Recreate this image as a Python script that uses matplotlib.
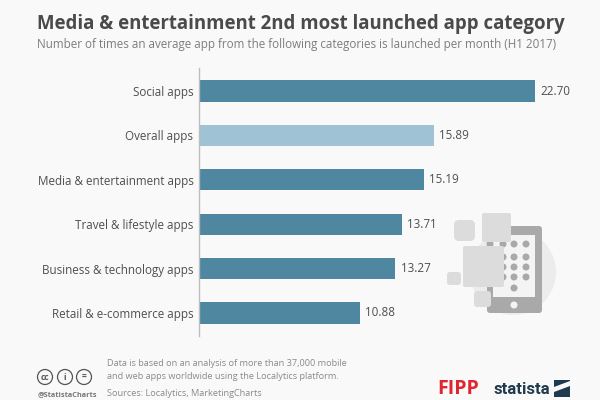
import matplotlib
matplotlib.use("Agg")
import matplotlib.pyplot as plt
from matplotlib.patches import Circle, FancyBboxPatch, Rectangle, Polygon

categories = ["Social apps", "Overall apps", "Media & entertainment apps",
              "Travel & lifestyle apps", "Business & technology apps",
              "Retail & e-commerce apps"]
launches = [22.70, 15.89, 15.19, 13.71, 13.27, 10.88]
bar_colors = ["#4f86a0", "#9fc3d4", "#4f86a0", "#4f86a0", "#4f86a0", "#4f86a0"]

title = "Media & entertainment 2nd most launched app category"
subtitle = "Number of times an average app from the following categories is launched per month (H1 2017)"
note_lines = ["Data is based on an analysis of more than 37,000 mobile",
              "and web apps worldwide using the Localytics platform."]
sources = "Sources: Localytics, MarketingCharts"

plt.rcParams["font.family"] = "Open Sans"
BG = "#f9f9f9"

fig = plt.figure(figsize=(6, 4), dpi=100, facecolor=BG)

# overlay in pixel coordinates for header, footer and artwork
bg = fig.add_axes([0, 0, 1, 1], zorder=0)
bg.set_xlim(0, 600)
bg.set_ylim(400, 0)
bg.axis("off")


def rounded(x, y, w, h, color, r=4):
    bg.add_patch(FancyBboxPatch((x + r, y + r), w - 2 * r, h - 2 * r,
                                boxstyle="round,pad=%d" % r, fc=color, ec="none"))


# phone illustration
bg.add_patch(Circle((513, 272), 43, fc="#ececec", ec="none"))
rounded(487, 226, 55, 87, "#a9a9a9", 3)
bg.add_patch(Rectangle((493, 235), 42, 62, fc="#f4f4f4", ec="none"))
bg.add_patch(Circle((514, 305), 3.5, fc="#f4f4f4", ec="none"))
for row_y in [244, 257, 267, 277]:
    for col_x in [490, 503, 514, 526]:
        bg.add_patch(Circle((col_x, row_y), 3.5, fc="#a9a9a9", ec="none"))
bg.add_patch(Circle((514, 288), 3.5, fc="#a9a9a9", ec="none"))
rounded(482, 213, 29, 29, "#dcdcdc", 2)
rounded(454, 220, 21, 21, "#dcdcdc", 5)
rounded(463, 246, 41, 41, "#dcdcdc", 2)
rounded(447, 272, 14, 13, "#dcdcdc", 3)
rounded(474, 291, 17, 16, "#dcdcdc", 3)

bg.text(37, 24.5, title, fontsize=13.45, fontweight="bold", color="#4a4a4a", va="center")
bg.text(37, 44.5, subtitle, fontsize=8.33, color="#7d7d7d", va="center")

# footer
for cx, glyph in zip([45, 65, 84], ["cc", "i", "="]):
    bg.add_patch(Circle((cx, 377), 7.5, fc="none", ec="#555555", lw=0.9))
    bg.text(cx, 377, glyph, fontsize=6, color="#555555", ha="center", va="center",
            fontweight="bold")
bg.text(38, 394.5, "@StatistaCharts", fontsize=5.3, color="#777777", va="center",
        fontweight="bold")
bg.text(107, 363.5, note_lines[0], fontsize=6.6, color="#8a8a8a", va="center")
bg.text(107, 376.5, note_lines[1], fontsize=6.6, color="#8a8a8a", va="center")
bg.text(107, 393.5, sources, fontsize=6.6, color="#8a8a8a", va="center")

bg.text(437, 389, "FIPP", fontsize=14, fontweight="bold", color="#e0252f", va="center")
bg.text(494, 389, "statista", fontsize=12, fontweight="bold", color="#1f3a4d", va="center",
        family="Roboto")
bg.add_patch(Rectangle((554, 380), 16, 17, fc="#1f3a4d", ec="none"))
bg.add_patch(Polygon([(554, 392), (554, 387), (570, 381), (570, 386)], fc=BG, ec="none"))

# bar chart
ax = fig.add_axes([199 / 600, 1 - 336 / 400, 340 / 600, 268 / 400], zorder=1)
ax.patch.set_alpha(0)
pos = list(range(len(categories)))
ax.barh(pos, launches, height=0.48, color=bar_colors)
ax.set_xlim(0, 340 / 14.8)
ax.set_ylim(len(categories) - 0.5 + 0.02, -0.52)
ax.set_yticks(pos)
ax.set_yticklabels(categories, fontsize=8.4, color="#4f4f4f")
ax.tick_params(axis="y", length=0, pad=4)
ax.set_xticks([])
for side in ["top", "right", "bottom"]:
    ax.spines[side].set_visible(False)
ax.spines["left"].set_color("#bdbdbd")
ax.spines["left"].set_linewidth(1)

for i, v in enumerate(launches):
    ax.text(v + 0.35, i, "%.2f" % v, fontsize=8.4, color="#4f4f4f", va="center")

fig.savefig("out.png", dpi=100, facecolor=BG)
